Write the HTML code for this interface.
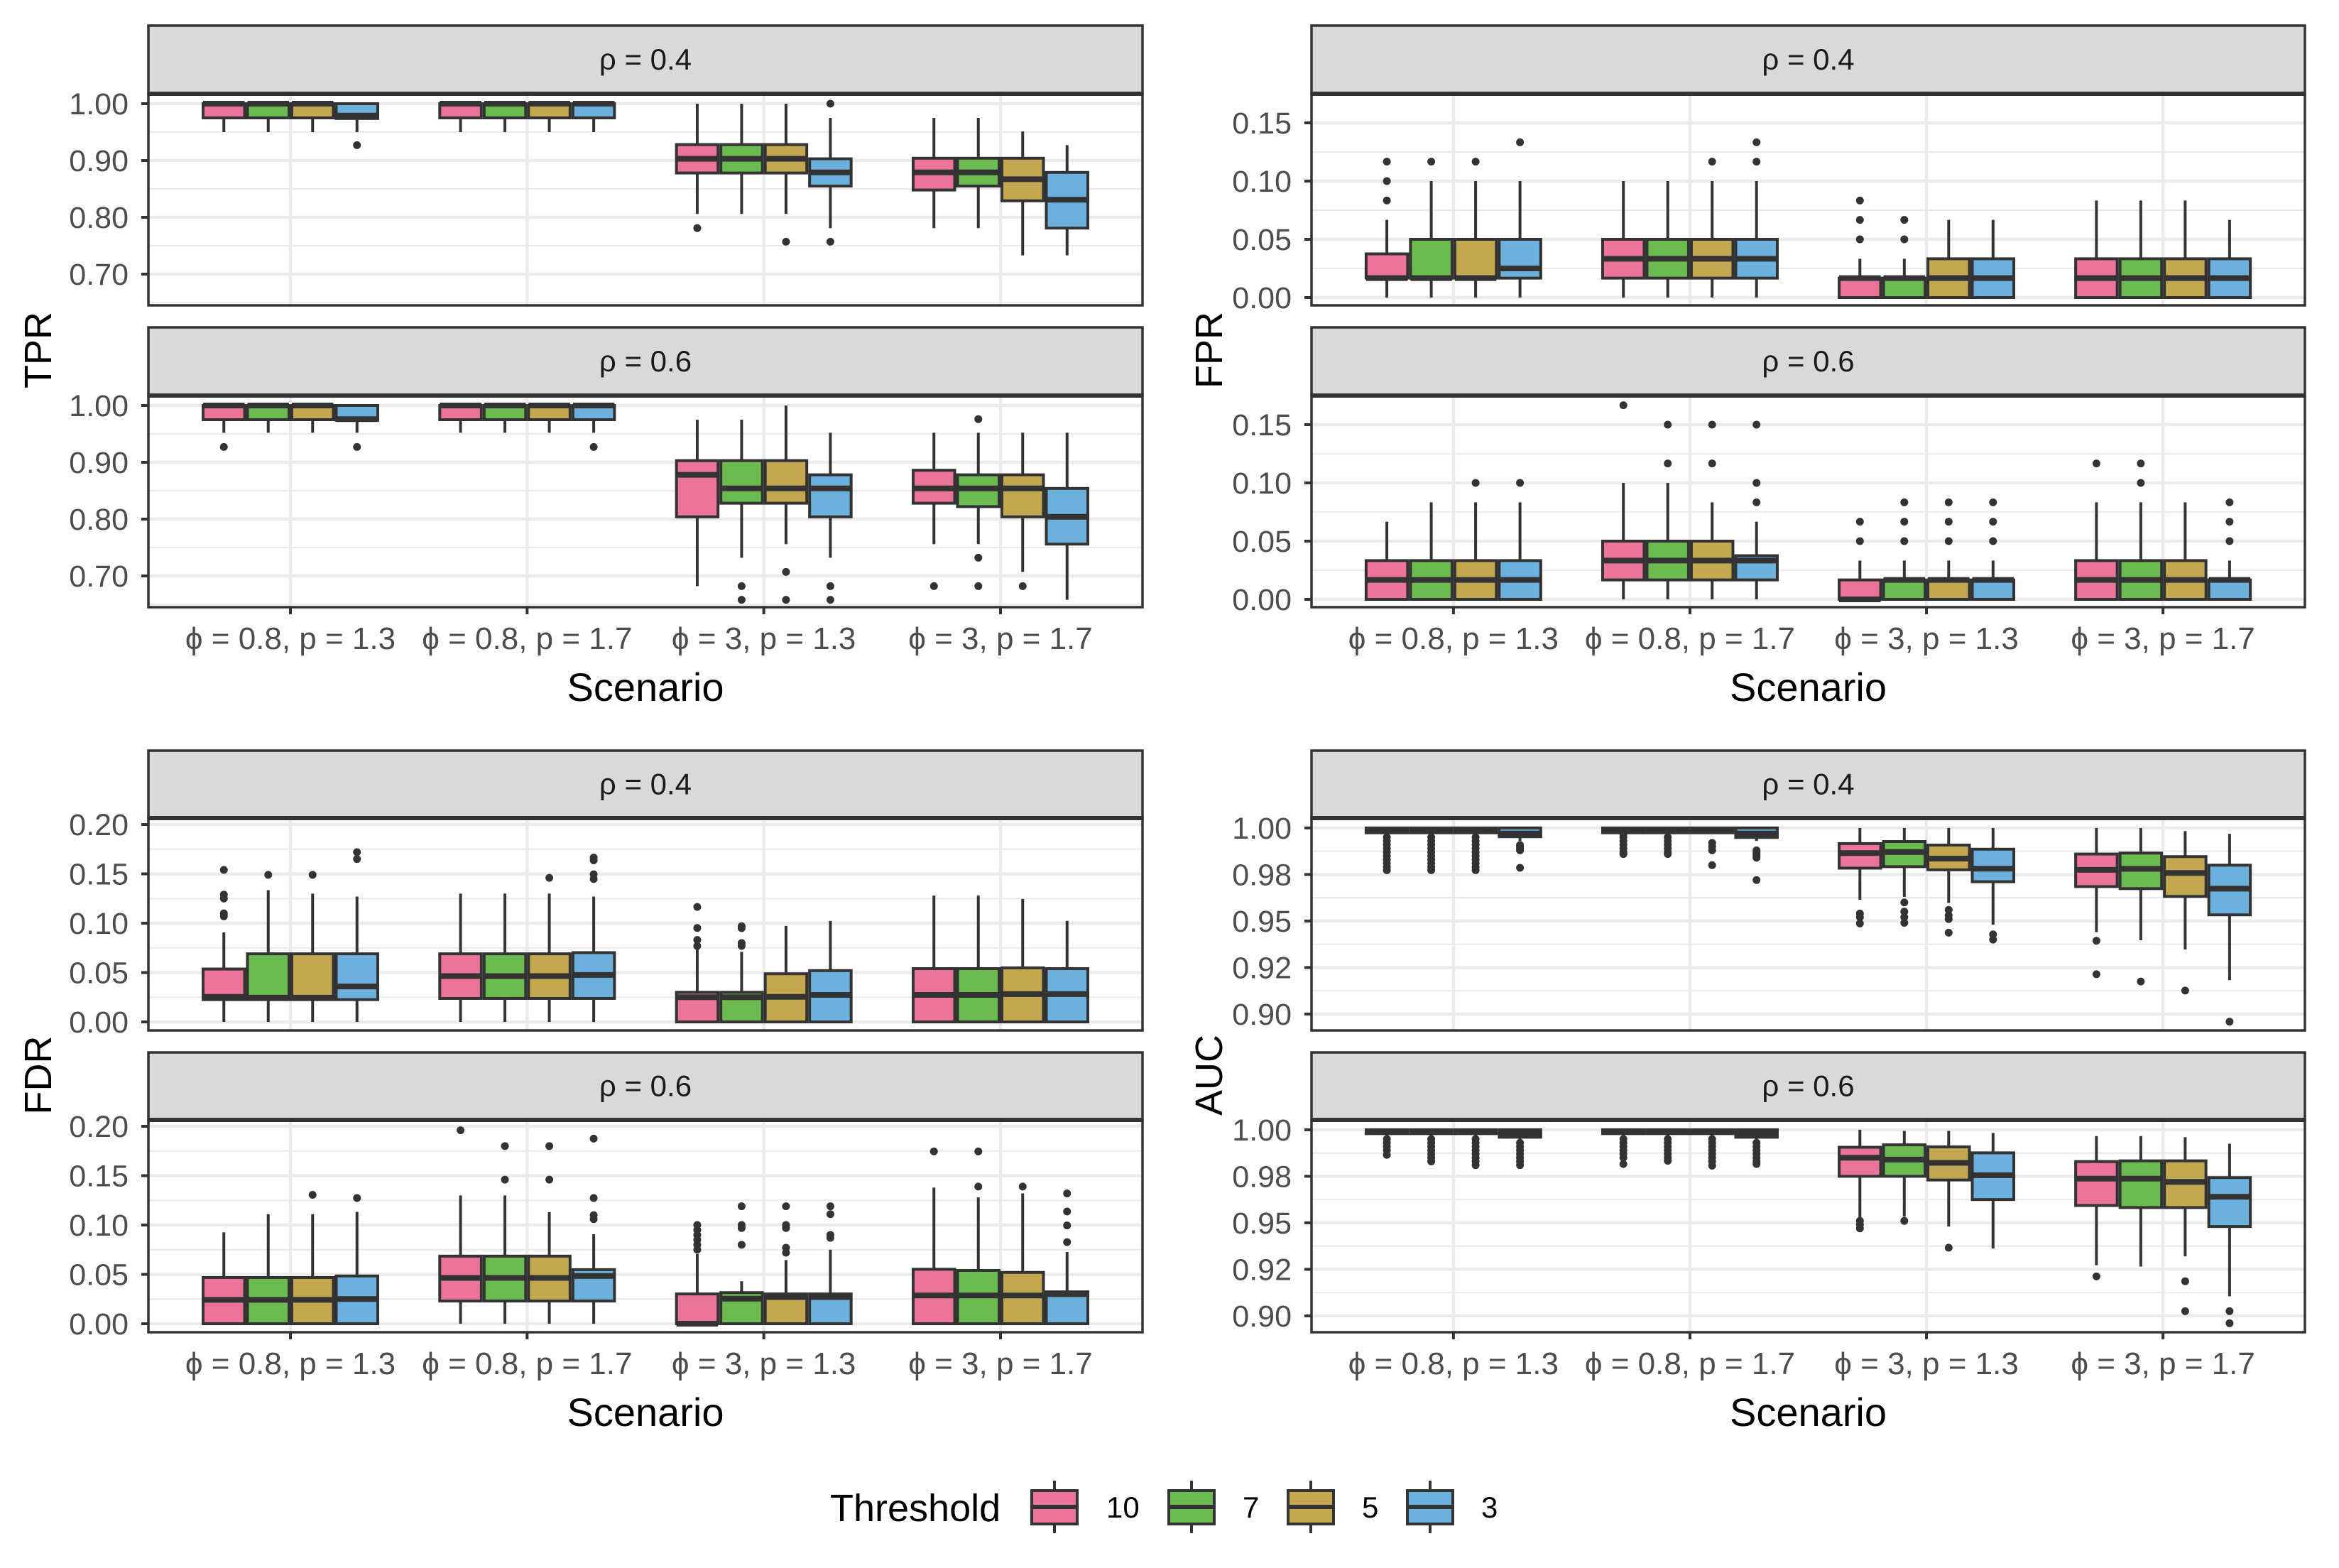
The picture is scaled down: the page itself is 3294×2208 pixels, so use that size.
<!DOCTYPE html>
<html><head><meta charset="utf-8">
<style>
html,body{margin:0;padding:0;background:#fff;}
svg{display:block;font-family:"Liberation Sans",Arial,sans-serif;}
</style></head>
<body>
<svg id="chart" width="3294" height="2208" viewBox="0 0 3294 2208" xmlns="http://www.w3.org/2000/svg"></svg>
<script>
// ---- data ----
const CATEGORIES = ["ϕ = 0.8, p = 1.3","ϕ = 0.8, p = 1.7","ϕ = 3, p = 1.3","ϕ = 3, p = 1.7"];
const THRESHOLDS = ["10","7","5","3"];
const COLORS = ["#EC7498","#6CBB50","#C4A851","#6CB0DD"];

const TPR04_LO  = [.95,.95,.95,.95, .95,.95,.95,.95, .806,.806,.806,.781, .781,.781,.733,.733];
const TPR04_Q1  = [.975,.975,.975,.974, .975,.975,.975,.975, .878,.878,.878,.855, .848,.855,.829,.781];
const TPR04_MED = [1,1,1,.979, 1,1,1,1, .903,.903,.903,.879, .879,.879,.867,.831];
const TPR04_Q3  = [1,1,1,1, 1,1,1,1, .928,.928,.928,.903, .904,.904,.904,.879];
const TPR04_HI  = [1,1,1,1, 1,1,1,1, 1,1,1,.975, .975,.975,.951,.927];
const TPR04_OUT = [[],[],[],[.927], [],[],[],[], [.781],[],[.757],[1,.757], [],[],[],[]];

const TPR06_LO  = [.952,.952,.952,.952, .952,.952,.952,.952, .682,.732,.756,.732, .756,.756,.707,.658];
const TPR06_Q1  = [.975,.975,.975,.974, .975,.975,.975,.975, .804,.828,.828,.804, .828,.822,.804,.756];
const TPR06_MED = [1,1,1,.976, 1,1,1,1, .878,.854,.854,.854, .854,.854,.854,.804];
const TPR06_Q3  = [1,1,1,1, 1,1,1,1, .903,.903,.903,.878, .886,.878,.878,.854];
const TPR06_HI  = [1,1,1,1, 1,1,1,1, .975,.975,1,.952, .952,.952,.952,.952];
const TPR06_OUT = [[.927],[],[],[.927], [],[],[],[.927], [],[.682,.658],[.707,.658],[.682,.658], [.682],[.976,.732,.682],[.682],[]];

const FPR04_LO  = [0,0,0,0, 0,0,0,0, 0,0,0,0, 0,0,0,0];
const FPR04_Q1  = [.0167,.0167,.0167,.0167, .0167,.0167,.0167,.0167, 0,0,0,0, 0,0,0,0];
const FPR04_MED = [.0167,.0167,.0167,.025, .0333,.0333,.0333,.0333, .0167,.0167,.0167,.0167, .0167,.0167,.0167,.0167];
const FPR04_Q3  = [.0375,.05,.05,.05, .05,.05,.05,.05, .0167,.0167,.0333,.0333, .0333,.0333,.0333,.0333];
const FPR04_HI  = [.0667,.1,.1,.1, .1,.1,.1,.1, .0333,.0333,.0667,.0667, .0833,.0833,.0833,.0667];
const FPR04_OUT = [[.1167,.1,.0833],[.1167],[.1167],[.1333], [],[],[.1167],[.1333,.1167], [.05,.0667,.0833],[.05,.0667],[],[], [],[],[],[]];

const FPR06_LO  = [0,0,0,0, 0,0,0,0, 0,0,0,0, 0,0,0,0];
const FPR06_Q1  = [0,0,0,0, .0167,.0167,.0167,.0167, 0,0,0,0, 0,0,0,0];
const FPR06_MED = [.0167,.0167,.0167,.0167, .0333,.0333,.0333,.0333, 0,.0167,.0167,.0167, .0167,.0167,.0167,.0167];
const FPR06_Q3  = [.0333,.0333,.0333,.0333, .05,.05,.05,.0375, .0167,.0167,.0167,.0167, .0333,.0333,.0333,.0167];
const FPR06_HI  = [.0667,.0833,.0833,.0833, .1,.1,.0833,.0667, .0333,.0333,.0333,.0333, .0833,.0833,.0833,.0333];
const FPR06_OUT = [[],[],[.1],[.1], [.1667],[.15,.1167],[.15,.1167],[.15,.1,.0833], [.05,.0667],[.05,.0667,.0833],[.05,.0667,.0833],[.05,.0667,.0833], [.1167],[.1,.1167],[],[.05,.0667,.0833]];

const FDR04_LO  = [0,0,0,0, 0,0,0,0, 0,0,0,0, 0,0,0,0];
const FDR04_Q1  = [.0226,.0226,.0226,.0226, .0238,.0238,.0238,.0238, 0,0,0,0, 0,0,0,0];
const FDR04_MED = [.0254,.0246,.0246,.0359, .0464,.0464,.0464,.0476, .025,.025,.0254,.0274, .0274,.0274,.0282,.0282];
const FDR04_Q3  = [.0536,.069,.069,.069, .069,.069,.069,.0702, .03,.03,.0488,.052, .054,.054,.0548,.054];
const FDR04_HI  = [.0907,.1335,.130,.127, .130,.130,.130,.127, .0758,.071,.0972,.1024, .128,.128,.1246,.1024];
const FDR04_OUT = [[.154,.129,.125,.11,.107],[.149],[.149],[.172,.165], [],[],[.146],[.1665,.1637,.1496,.1448], [.1165,.0952,.083,.077],[.097,.095,.08,.077],[],[], [],[],[],[]];

const FDR06_LO  = [0,0,0,0, 0,0,0,0, 0,0,0,0, 0,0,0,0];
const FDR06_Q1  = [0,0,0,0, .023,.023,.023,.023, 0,0,0,0, 0,0,0,0];
const FDR06_MED = [.0242,.0242,.0242,.025, .0464,.0464,.0464,.0484, 0,.0254,.027,.027, .0286,.0286,.0286,.030];
const FDR06_Q3  = [.0468,.0468,.0468,.0484, .0685,.0685,.0685,.0548, .0302,.0315,.0302,.0302, .0552,.054,.052,.0323];
const FDR06_HI  = [.0927,.111,.111,.1133, .130,.130,.113,.0907, .0706,.043,.0645,.075, .138,.128,.132,.0726];
const FDR06_OUT = [[],[],[.1306],[.1274], [.196],[.18,.146],[.18,.146],[.1875,.1274,.11,.106], [.1,.095,.09,.085,.08,.075],[.119,.1,.097,.08],[.119,.1,.097,.077,.072],[.119,.111,.09,.087], [.1746],[.1746,.139],[.139],[.132,.1137,.0996,.0827]];

const AUC04_LO  = [.9965,.9965,.9965,.993, .997,.997,.997,.993, .9614,.963,.9597,.948, .944,.9396,.9347,.9182];
const AUC04_Q1  = [.9974,.9974,.9974,.9953, .9974,.9974,.9974,.9949, .9784,.9792,.9775,.9711, .9685,.9674,.9632,.9533];
const AUC04_MED = [.999,.999,.999,.997, .999,.999,.999,.997, .9865,.9871,.9835,.9781, .9775,.978,.9758,.9674];
const AUC04_Q3  = [1,1,1,1, 1,1,1,1, .9916,.9927,.9908,.9886, .986,.9865,.9846,.98];
const AUC04_HI  = [1,1,1,1, 1,1,1,1, 1,1,1,1, 1,1,.9983,.9968];
const AUC04_OUT = [[.995,.993,.991,.989,.987,.985,.983,.981,.979,.9773],[.995,.993,.991,.989,.987,.985,.983,.981,.979,.9773],[.995,.993,.991,.989,.987,.985,.983,.981,.979,.9773],[.9908,.99,.989,.988,.9786],
 [.9965,.995,.993,.991,.989,.987,.986],[.995,.993,.991,.989,.987,.986],[.992,.99,.988,.98],[.988,.987,.986,.985,.984,.972],
 [.954,.952,.9487],[.96,.955,.952,.949],[.956,.953,.951,.9437],[.9428,.94],
 [.9394,.9214],[.9175],[.9126],[.8959]];

const AUC06_LO  = [.9965,.9965,.9965,.9945, .9965,.9965,.9965,.9945, .9527,.9533,.948,.9362, .9272,.9265,.932,.9105];
const AUC06_Q1  = [.9979,.9979,.9979,.996, .9979,.9979,.9979,.996, .975,.975,.973,.9625, .9593,.9582,.9582,.948];
const AUC06_MED = [.999,.999,.999,.998, .999,.999,.999,.998, .985,.984,.9822,.9756, .9737,.9737,.972,.964];
const AUC06_Q3  = [1,1,1,1, 1,1,1,1, .9906,.9919,.9908,.9876, .9829,.9833,.9833,.9743];
const AUC06_HI  = [1,1,1,1, 1,1,1,1, 1,.9994,.9994,.9983, .9966,.9966,.996,.9925];
const AUC06_OUT = [[.995,.993,.991,.989,.9865],[.995,.993,.991,.989,.987,.985,.983],[.995,.993,.991,.989,.987,.985,.983,.981],[.993,.991,.989,.987,.985,.983,.981],
 [.995,.993,.991,.989,.987,.985,.9816],[.995,.993,.991,.989,.987,.985,.9833],[.995,.993,.991,.989,.987,.985,.983,.9807],[.993,.991,.989,.987,.985,.983,.9816],
 [.951,.949,.947],[.951],[.9366],[],
 [.9212],[],[.9186,.9025],[.9025,.896]];

const TPR_TICKS = [0.70,0.80,0.90,1.00];
const TPR_TICK_LABELS = ["0.70","0.80","0.90","1.00"];
const RATE_TICKS = [0,0.05,0.10,0.15];
const RATE_TICK_LABELS = ["0.00","0.05","0.10","0.15"];
const FDR_TICKS = [0,0.05,0.10,0.15,0.20];
const FDR_TICK_LABELS = ["0.00","0.05","0.10","0.15","0.20"];
const AUC_TICKS = [0.9,0.925,0.95,0.975,1.0];
const AUC_TICK_LABELS = ["0.90","0.92","0.95","0.98","1.00"];

// ---- layout ----
const NS = "http://www.w3.org/2000/svg";
const svg = document.getElementById("chart");
function mk(tag, attrs, parent){
  const e = document.createElementNS(NS, tag);
  for (const k in attrs) e.setAttribute(k, attrs[k]);
  (parent||svg).appendChild(e);
  return e;
}
const COLS = [[209,1609],[1847,3246]];
const ROWS = [
  [36,132,430],[461,557,855],[1057,1152,1451],[1482,1577,1876]
];
const FACETS = [
  {metric:"TPR", rho:"0.4", col:0, row:0, dom:[0.645,1.0175], ticks:TPR_TICKS, labels:TPR_TICK_LABELS, step:0.05,
   d:[TPR04_LO,TPR04_Q1,TPR04_MED,TPR04_Q3,TPR04_HI,TPR04_OUT]},
  {metric:"TPR", rho:"0.6", col:0, row:1, dom:[0.645,1.0175], ticks:TPR_TICKS, labels:TPR_TICK_LABELS, step:0.05,
   d:[TPR06_LO,TPR06_Q1,TPR06_MED,TPR06_Q3,TPR06_HI,TPR06_OUT]},
  {metric:"FPR", rho:"0.4", col:1, row:0, dom:[-0.0067,0.175], ticks:RATE_TICKS, labels:RATE_TICK_LABELS, step:0.025,
   d:[FPR04_LO,FPR04_Q1,FPR04_MED,FPR04_Q3,FPR04_HI,FPR04_OUT]},
  {metric:"FPR", rho:"0.6", col:1, row:1, dom:[-0.0067,0.175], ticks:RATE_TICKS, labels:RATE_TICK_LABELS, step:0.025,
   d:[FPR06_LO,FPR06_Q1,FPR06_MED,FPR06_Q3,FPR06_HI,FPR06_OUT]},
  {metric:"FDR", rho:"0.4", col:0, row:2, dom:[-0.0086,0.2065], ticks:FDR_TICKS, labels:FDR_TICK_LABELS, step:0.025,
   d:[FDR04_LO,FDR04_Q1,FDR04_MED,FDR04_Q3,FDR04_HI,FDR04_OUT]},
  {metric:"FDR", rho:"0.6", col:0, row:3, dom:[-0.0086,0.2065], ticks:FDR_TICKS, labels:FDR_TICK_LABELS, step:0.025,
   d:[FDR06_LO,FDR06_Q1,FDR06_MED,FDR06_Q3,FDR06_HI,FDR06_OUT]},
  {metric:"AUC", rho:"0.4", col:1, row:2, dom:[0.8912,1.0053], ticks:AUC_TICKS, labels:AUC_TICK_LABELS, step:0.0125,
   d:[AUC04_LO,AUC04_Q1,AUC04_MED,AUC04_Q3,AUC04_HI,AUC04_OUT]},
  {metric:"AUC", rho:"0.6", col:1, row:3, dom:[0.8912,1.0053], ticks:AUC_TICKS, labels:AUC_TICK_LABELS, step:0.0125,
   d:[AUC06_LO,AUC06_Q1,AUC06_MED,AUC06_Q3,AUC06_HI,AUC06_OUT]}
];
const DARK = "#333333";
const BOXW = 62.5;

FACETS.forEach(f => {
  const [x0,x1] = COLS[f.col];
  const [sTop,pTop,pBot] = ROWS[f.row];
  const y = v => pBot - (v - f.dom[0]) / (f.dom[1]-f.dom[0]) * (pBot - pTop);
  const xs = c => x0 + (c + 0.6) * (x1 - x0) / 4.2;
  const key = f.metric.toLowerCase()+"-rho-"+f.rho.replace(".","");
  const g = mk("g", {});
  
  
  mk("rect",{x:x0,y:pTop,width:x1-x0,height:pBot-pTop,fill:"#fff"},g);
  const startMinor = Math.ceil(f.dom[0]/f.step - 1e-9);
  for (let k = startMinor; k*f.step <= f.dom[1]+1e-9; k++) {
    const v = k*f.step;
    const isMajor = f.ticks.some(t => Math.abs(t - v) < 1e-6);
    if (isMajor) continue;
    mk("line",{x1:x0,x2:x1,y1:y(v),y2:y(v),stroke:"#EBEBEB","stroke-width":2.2},g);
  }
  f.ticks.forEach(t => mk("line",{x1:x0,x2:x1,y1:y(t),y2:y(t),stroke:"#EBEBEB","stroke-width":4.4},g));
  CATEGORIES.forEach((c,i) => mk("line",{x1:xs(i),x2:xs(i),y1:pTop,y2:pBot,stroke:"#EBEBEB","stroke-width":4.4},g));
  const [LO,Q1,MED,Q3,HI,OUT] = f.d;
  for (let c = 0; c < 4; c++) for (let t = 0; t < 4; t++) {
    const i = c*4 + t;
    const cx = xs(c) + (t - 1.5) * BOXW;
    const bg = mk("g",{},g);
    
    
    mk("line",{x1:cx,x2:cx,y1:y(HI[i]),y2:y(Q3[i]),stroke:DARK,"stroke-width":4},bg);
    mk("line",{x1:cx,x2:cx,y1:y(Q1[i]),y2:y(LO[i]),stroke:DARK,"stroke-width":4},bg);
    const top = y(Q3[i]), bot = y(Q1[i]);
    mk("rect",{x:cx-BOXW/2+2,y:top,width:BOXW-4,height:Math.max(bot-top,0.5),fill:COLORS[t],stroke:DARK,"stroke-width":4},bg);
    mk("line",{x1:cx-BOXW/2+2,x2:cx+BOXW/2-2,y1:y(MED[i]),y2:y(MED[i]),stroke:DARK,"stroke-width":8},bg);
    OUT[i].forEach(o => mk("circle",{cx:cx,cy:y(o),r:5.5,fill:DARK},bg));
  }
  mk("rect",{x:x0,y:pTop,width:x1-x0,height:pBot-pTop,fill:"none",stroke:DARK,"stroke-width":3.5},g);
  const st = mk("rect",{x:x0,y:sTop,width:x1-x0,height:pTop-sTop,fill:"#D9D9D9",stroke:DARK,"stroke-width":3.5});
  
  
  mk("line",{x1:x0,x2:x1,y1:pTop,y2:pTop,stroke:DARK,"stroke-width":6});
  const stt = mk("text",{x:(x0+x1)/2,y:(sTop+pTop)/2+14,"text-anchor":"middle","font-size":42,fill:"#1A1A1A"});
  stt.textContent = "ρ = " + f.rho;
  
  
  f.ticks.forEach((t,j) => {
    mk("line",{x1:x0-10,x2:x0,y1:y(t),y2:y(t),stroke:DARK,"stroke-width":4});
    const tl = mk("text",{x:x0-28,y:y(t)+15,"text-anchor":"end","font-size":43,fill:"#4D4D4D"});
    tl.textContent = f.labels[j];
    
    
  });
  if (f.row === 1 || f.row === 3) {
    CATEGORIES.forEach((c,i) => {
      mk("line",{x1:xs(i),x2:xs(i),y1:pBot,y2:pBot+10,stroke:DARK,"stroke-width":4});
      const xl = mk("text",{x:xs(i),y:pBot+59,"text-anchor":"middle","font-size":44,fill:"#4D4D4D"});
      xl.textContent = c;
      
      
    });
    const xt = mk("text",{x:(x0+x1)/2,y:pBot+132,"text-anchor":"middle","font-size":56,fill:"#000"});
    xt.textContent = "Scenario";
    
    
  }
});
[["TPR",53,493],["FPR",1702,493],["FDR",53,1514],["AUC",1702,1514]].forEach(a => {
  const t = mk("text",{x:a[1],y:a[2],"text-anchor":"middle","font-size":54,fill:"#000",transform:`rotate(-90 ${a[1]} ${a[2]}) translate(0 19)`});
  t.textContent = a[0];
  
  
});
const lg = mk("g",{});


const lt = mk("text",{x:1169,y:2142,"font-size":54,fill:"#000"},lg);
lt.textContent = "Threshold";


const KEYX = [1451,1644,1812,1980];
const LABX = [1558,1750,1918,2086];
THRESHOLDS.forEach((th,i) => {
  const kg = mk("g",{},lg);
  
  
  const cx = KEYX[i] + 34;
  mk("line",{x1:cx,x2:cx,y1:2085,y2:2159,stroke:DARK,"stroke-width":4},kg);
  mk("rect",{x:KEYX[i]+2,y:2099,width:64,height:47,fill:COLORS[i],stroke:DARK,"stroke-width":4},kg);
  mk("line",{x1:KEYX[i]+2,x2:KEYX[i]+66,y1:2122,y2:2122,stroke:DARK,"stroke-width":6},kg);
  const tx = mk("text",{x:LABX[i],y:2137,"font-size":42,fill:"#000"},kg);
  tx.textContent = th;
});
</script>
</body></html>
